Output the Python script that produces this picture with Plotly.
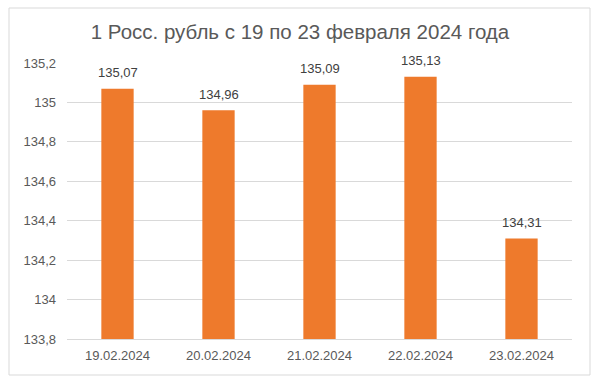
import plotly.graph_objects as go

dates = ["19.02.2024", "20.02.2024", "21.02.2024", "22.02.2024", "23.02.2024"]
values = [135.07, 134.96, 135.09, 135.13, 134.31]
y_ticks = [133.8, 134.0, 134.2, 134.4, 134.6, 134.8, 135.0, 135.2]
title_text = "1 Росс. рубль с 19 по 23 февраля 2024 года"

FONT = "Liberation Sans, Arial, sans-serif"
GRAY = "#595959"

L, R, T, B = 67, 28, 63, 41
W, H = 600, 380
pw, ph = W - L - R, H - T - B

def px2x(px):
    return (px - L) / pw

def py2y(py):
    return (H - B - py) / ph

fmt = lambda v: f"{v:.2f}".replace(".", ",")

fig = go.Figure()
fig.add_trace(go.Bar(
    x=dates, y=values,
    width=0.32,
    marker=dict(color="#EE7A2C", line=dict(width=0)),
    hoverinfo="skip",
))

annotations = [
    dict(x=d, y=v, xref="x", yref="y", text=fmt(v), showarrow=False,
         yshift=16, yanchor="middle",
         font=dict(family=FONT, size=13, color="#404040"))
    for d, v in zip(dates, values)
]

fig.update_layout(
    width=W, height=H,
    margin=dict(l=L, r=R, t=T, b=B),
    paper_bgcolor="white", plot_bgcolor="white",
    separators=", ",
    showlegend=False,
    annotations=annotations,
    title=dict(text=title_text, x=0.5, xanchor="center", y=1 - 32 / H, yanchor="middle",
               font=dict(family=FONT, size=20.5, color=GRAY)),
    font=dict(family=FONT, size=13, color=GRAY),
    xaxis=dict(showgrid=False, showline=True, linecolor="#D9D9D9", linewidth=1,
               ticks="", ticklabelstandoff=4, automargin=False,
               tickfont=dict(size=13, color=GRAY), fixedrange=True),
    yaxis=dict(range=[133.8, 135.2], tickvals=y_ticks,
               ticktext=[("%g" % t).replace(".", ",") for t in y_ticks],
               showgrid=True, gridcolor="#D9D9D9", gridwidth=1, zeroline=False,
               automargin=False, ticklabelstandoff=10,
               showline=False, ticks="", tickfont=dict(size=13, color=GRAY)),
    shapes=[dict(type="rect", xref="paper", yref="paper",
                 x0=px2x(9), x1=px2x(590), y0=py2y(375), y1=py2y(8),
                 line=dict(color="#D9D9D9", width=1), fillcolor="rgba(0,0,0,0)", layer="below")],
)
fig.write_html("out.html")
